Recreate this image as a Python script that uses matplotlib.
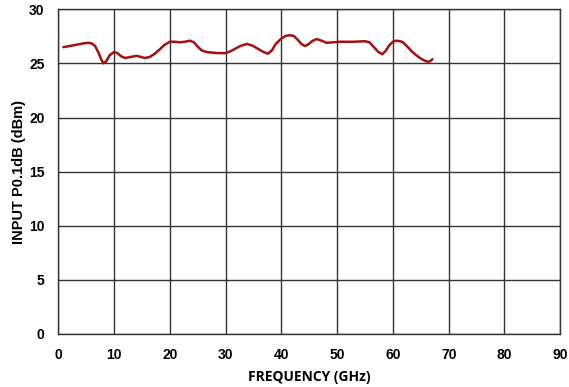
import matplotlib
matplotlib.use("Agg")
import matplotlib.pyplot as plt

freq = [0.9, 3.0, 4.5, 5.4, 6.0, 6.6, 7.2, 7.7, 8.1, 8.6, 9.2, 10.0, 10.6, 11.3, 12.0, 13.0,
        14.05, 14.8, 15.5, 16.4, 17.3, 18.2, 19.0, 20.0, 20.9, 21.8, 22.7, 23.6, 24.3,
        25.0, 25.7, 26.6, 27.5, 28.7, 29.9, 30.8, 31.7, 32.6, 33.8, 34.8, 35.8, 36.8,
        37.6, 38.3, 39.0, 40.0, 40.8, 41.5, 42.2, 42.9, 43.6, 44.2, 44.8, 45.5, 46.3,
        47.2, 48.1, 49.3, 50.5, 53.0, 55.0, 55.8, 56.6, 57.4, 58.1, 58.7, 59.4, 60.0,
        60.6, 61.3, 61.8, 62.5, 63.3, 64.2, 65.0, 65.7, 66.3, 66.7, 67.1]
p01db = [26.5, 26.7, 26.85, 26.9, 26.85, 26.6, 26.0, 25.35, 25.0, 25.2, 25.75, 26.06, 25.95,
         25.65, 25.5, 25.6, 25.7, 25.6, 25.5, 25.6, 25.9, 26.3, 26.7, 27.0, 27.0, 26.95,
         27.0, 27.1, 26.95, 26.55, 26.2, 26.05, 26.0, 25.95, 25.95, 26.1, 26.35, 26.6,
         26.8, 26.65, 26.35, 26.05, 25.9, 26.2, 26.8, 27.3, 27.55, 27.6, 27.55, 27.2,
         26.8, 26.6, 26.75, 27.05, 27.25, 27.1, 26.9, 26.95, 27.0, 27.0, 27.05, 26.95,
         26.5, 26.05, 25.85, 26.15, 26.7, 27.0, 27.1, 27.05, 26.95, 26.6, 26.15, 25.75,
         25.45, 25.25, 25.15, 25.2, 25.4]

xticks = [0, 10, 20, 30, 40, 50, 60, 70, 80, 90]
yticks = [0, 5, 10, 15, 20, 25, 30]

fig = plt.figure(figsize=(5.69, 3.87), dpi=100)
ax = fig.add_axes([0.1025, 0.137, 0.882, 0.839])
ax.plot(freq, p01db, color="#a50f0f", linewidth=1.8, solid_joinstyle="round",
        solid_capstyle="round")
ax.set_xlim(0, 90)
ax.set_ylim(0, 30)
ax.set_xticks(xticks)
ax.set_yticks(yticks)
ax.grid(True, color="#333333", linewidth=1.0)
ax.set_axisbelow(True)
for s in ax.spines.values():
    s.set_color("#333333")
    s.set_linewidth(1.0)
ax.tick_params(length=0, pad=10, labelsize=10)
for lab in ax.get_xticklabels() + ax.get_yticklabels():
    lab.set_fontfamily("Liberation Sans")
    lab.set_fontweight("bold")
ax.set_xlabel("FREQUENCY (GHz)", fontfamily="Open Sans", fontweight="bold", fontsize=10, labelpad=6)
ax.set_ylabel("INPUT P0.1dB (dBm)", fontfamily="Liberation Sans", fontweight="bold", fontsize=10.5, labelpad=2)
fig.savefig("out.png", dpi=100)
